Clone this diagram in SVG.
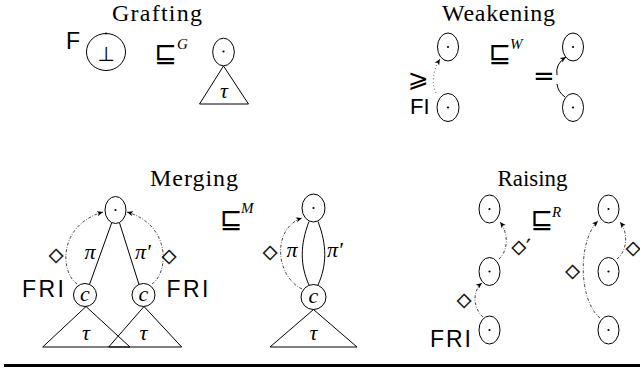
<svg xmlns="http://www.w3.org/2000/svg" width="640" height="368" viewBox="0 0 640 368">
  <style>
    .title { font-family: "Liberation Serif", serif; font-size: 24px; text-anchor: middle; fill: #000; }
    .sans { font-family: "Liberation Sans", sans-serif; font-size: 23px; fill: #000; }
    .math { font-family: "Liberation Serif", serif; font-style: italic; font-size: 22px; text-anchor: middle; fill: #000; }
    .sup { font-family: "Liberation Serif", serif; font-style: italic; font-size: 15px; fill: #000; }
    .sym { font-family: "DejaVu Sans", sans-serif; font-size: 27px; text-anchor: middle; fill: #000; }
    .dia { font-family: "DejaVu Sans", sans-serif; font-size: 19px; text-anchor: middle; fill: #000; stroke: #000; stroke-width: 0.35; }
    .node { fill: #fff; stroke: #000; stroke-width: 1; }
    .dot { fill: #000; }
    .edge { fill: none; stroke: #000; stroke-width: 1; }
    .tri { fill: none; stroke: #000; stroke-width: 1; stroke-linejoin: miter; }
    .dashdot { fill: none; stroke: #333; stroke-width: 0.9; stroke-dasharray: 3 1.6 0.8 1.6; marker-end: url(#head); }
    .dotted { fill: none; stroke: #333; stroke-width: 0.9; stroke-dasharray: 0.9 2.6; marker-end: url(#head); }
    .solid { fill: none; stroke: #000; stroke-width: 1; }
  </style>
  <defs>
    <marker id="head" markerWidth="7" markerHeight="6" refX="6" refY="3" orient="auto" markerUnits="userSpaceOnUse">
      <path d="M0,0.4 L6,3 L0,5.6 L1.6,3 z" fill="#000"/>
    </marker>
  </defs>
  <rect x="0" y="0" width="640" height="368" fill="#fff"/>

  <!-- Grafting -->
  <text class="title" x="157" y="21" textLength="90" lengthAdjust="spacing">Grafting</text>
  <g id="graft-bottom">
    <text class="sans" x="66" y="49">F</text>
    <ellipse class="node" cx="106" cy="52" rx="19.5" ry="18.5"/>
    <circle class="dot" cx="106" cy="33.6" r="1"/>
    <text class="sym" x="106" y="61" style="font-size:20px">⊥</text>
  </g>
  <g id="graft-rel">
    <text class="sym" x="165.5" y="62">⊑</text>
    <text class="sup" x="177" y="49">G</text>
  </g>
  <g id="graft-tree">
    <ellipse class="node" cx="223.5" cy="52" rx="10.8" ry="13.8"/>
    <circle class="dot" cx="223.5" cy="51.5" r="1.1"/>
    <path class="tri" d="M223.5,66 L199.5,104 L248.5,104 Z"/>
    <text class="math" x="224" y="98">τ</text>
  </g>

  <!-- Weakening -->
  <text class="title" x="498.5" y="21" textLength="113" lengthAdjust="spacing">Weakening</text>
  <g id="weak-top-l">
    <ellipse class="node" cx="448" cy="47" rx="10.5" ry="14"/>
    <circle class="dot" cx="448" cy="47" r="1.1"/>
  </g>
  <g id="weak-bot-l">
    <ellipse class="node" cx="448" cy="107.5" rx="11" ry="14"/>
    <circle class="dot" cx="448" cy="107.5" r="1.1"/>
    <text class="sans" x="410" y="113.5" style="font-size:22px">FI</text>
  </g>
  <g id="weak-rel">
    <text class="sym" x="499.7" y="62">⊑</text>
    <text class="sup" x="510" y="49">W</text>
  </g>
  <g id="weak-top-r">
    <ellipse class="node" cx="573" cy="47" rx="10.5" ry="14"/>
    <circle class="dot" cx="573" cy="47" r="1.1"/>
  </g>
  <g id="weak-bot-r">
    <ellipse class="node" cx="573" cy="107.5" rx="10.5" ry="14"/>
    <circle class="dot" cx="573" cy="107.5" r="1.1"/>
  </g>

  <!-- Merging -->
  <text class="title" x="194" y="186" textLength="88" lengthAdjust="spacing">Merging</text>
  <g id="merge-root">
    <ellipse class="node" cx="115.5" cy="210" rx="10.5" ry="13.5"/>
    <circle class="dot" cx="115.5" cy="210" r="1.1"/>
  </g>
  <g id="merge-c1">
    <circle class="node" cx="85" cy="295" r="11.5"/>
    <text class="math" x="85" y="301">c</text>
    <path class="tri" d="M86,306.5 L42.7,347 L130,347 Z"/>
    <text class="math" x="86" y="340">τ</text>
    <text class="sans" x="22" y="296.5" textLength="42" lengthAdjust="spacing">FRI</text>
  </g>
  <g id="merge-c2">
    <circle class="node" cx="143.5" cy="295" r="11.5"/>
    <text class="math" x="143.5" y="301">c</text>
    <path class="tri" d="M144,306.5 L108.7,347 L181.7,347 Z"/>
    <text class="math" x="143.5" y="340">τ</text>
    <text class="sans" x="166.5" y="296.5" textLength="42" lengthAdjust="spacing">FRI</text>
  </g>
  <g id="merge-rel">
    <text class="sym" x="231" y="228">⊑</text>
    <text class="sup" x="241" y="213">M</text>
  </g>
  <g id="merged-root">
    <ellipse class="node" cx="313.5" cy="208" rx="11.5" ry="14"/>
    <circle class="dot" cx="313.5" cy="208" r="1.1"/>
  </g>
  <g id="merged-c">
    <circle class="node" cx="313.5" cy="297" r="12.5"/>
    <text class="math" x="313.5" y="303">c</text>
    <path class="tri" d="M313.5,309.5 L270,347 L357,347 Z"/>
    <text class="math" x="313.5" y="340">τ</text>
  </g>

  <!-- Raising -->
  <text class="title" x="532.5" y="186" textLength="70" lengthAdjust="spacingAndGlyphs">Raising</text>
  <g id="raise-l-top">
    <ellipse class="node" cx="489.5" cy="209" rx="10.5" ry="14"/>
    <circle class="dot" cx="489.5" cy="209" r="1.1"/>
  </g>
  <g id="raise-l-mid">
    <ellipse class="node" cx="489.5" cy="271.5" rx="10.5" ry="14"/>
    <circle class="dot" cx="489.5" cy="271.5" r="1.1"/>
  </g>
  <g id="raise-l-bot">
    <ellipse class="node" cx="489.5" cy="330" rx="10.5" ry="14"/>
    <circle class="dot" cx="489.5" cy="330" r="1.1"/>
    <text class="sans" x="430" y="346.5" textLength="41" lengthAdjust="spacing">FRI</text>
  </g>
  <g id="raise-rel">
    <text class="sym" x="541.7" y="228">⊑</text>
    <text class="sup" x="552" y="217">R</text>
  </g>
  <g id="raise-r-top">
    <ellipse class="node" cx="608.5" cy="209" rx="10.5" ry="14"/>
    <circle class="dot" cx="608.5" cy="209" r="1.1"/>
  </g>
  <g id="raise-r-mid">
    <ellipse class="node" cx="608.5" cy="271.5" rx="10.5" ry="14"/>
    <circle class="dot" cx="608.5" cy="271.5" r="1.1"/>
  </g>
  <g id="raise-r-bot">
    <ellipse class="node" cx="608.5" cy="330" rx="10.5" ry="14"/>
    <circle class="dot" cx="608.5" cy="330" r="1.1"/>
  </g>

  <!-- connectors and their labels -->
  <g id="connectors">
    <!-- weakening -->
    <path class="dotted" d="M436,93 Q429,77 440,59"/>
    <text class="sym" x="418.5" y="87" style="font-size:25px">⩾</text>
    <path class="solid" d="M557,75 Q555,64 566,57" marker-end="url(#head)"/>
    <path class="solid" d="M557,84 Q558,92 565,97"/>
    <text class="sym" x="544" y="85" style="font-size:26px">=</text>

    <!-- merging, before -->
    <line class="edge" x1="111.7" y1="222.8" x2="89.5" y2="284.5"/>
    <line class="edge" x1="119.5" y1="222.8" x2="139" y2="284.5"/>
    <text class="math" x="90" y="259">π</text>
    <text class="math" x="143" y="259">π′</text>
    <path class="dashdot" d="M77,284 C60,272 58,225 103,212"/>
    <path class="dashdot" d="M152,284 C169,272 171,225 127,212"/>
    <text class="dia" x="56" y="261">◇</text>
    <text class="dia" x="169" y="262">◇</text>

    <!-- merging, after -->
    <path class="edge" d="M309,221.5 C300,245 300,265 309,285"/>
    <path class="edge" d="M318,221.5 C327,245 327,265 318,285"/>
    <text class="math" x="292" y="257">π</text>
    <text class="math" x="335" y="257">π′</text>
    <path class="dashdot" d="M302,289 C275,276 272,228 302,218"/>
    <text class="dia" x="270" y="258">◇</text>

    <!-- raising, before -->
    <path class="dashdot" d="M483,317 C472,307 473,290 482,283"/>
    <path class="dashdot" d="M499,259 C509,250 508,232 500,222"/>
    <text class="dia" x="464" y="306">◇</text>
    <text class="dia" x="521" y="253">◇′</text>

    <!-- raising, after -->
    <path class="dashdot" d="M600,318 C578,300 578,240 598,221"/>
    <path class="dashdot" d="M617,259 C628,250 628,232 620,222"/>
    <text class="dia" x="572.5" y="277">◇</text>
    <text class="dia" x="633" y="254">◇</text>
  </g>

  <line x1="4" y1="365.5" x2="640" y2="365.5" stroke="#000" stroke-width="3"/>
</svg>
